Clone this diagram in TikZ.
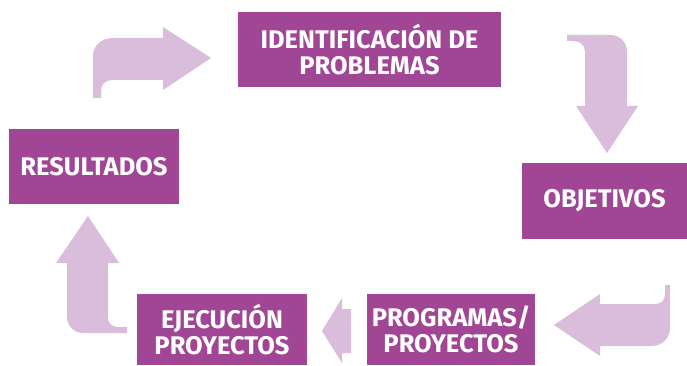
\documentclass[tikz,border=0pt]{standalone}
\usepackage{fontspec}
\setmainfont{Fira Sans}
\definecolor{boxc}{HTML}{A14694}
\definecolor{arrc}{HTML}{D9BDDB}
\begin{document}
\begin{tikzpicture}[x=1pt,y=-1pt,
  box/.style={fill=boxc, text=white, font=\bfseries\fontsize{25.5}{26.5}\selectfont, align=center, inner sep=0pt},
  blk/.style={fill=arrc, draw=none}]
\useasboundingbox (0,0) rectangle (687,366);
% block arrows
\fill[blk] (93,98) -- (93,56) .. controls (93,45) and (102,38) .. (113,38) -- (163,38) -- (163,27) -- (211,58) -- (163,90) -- (163,80) -- (112,80) .. controls (105,80) and (101,85) .. (101,91) -- (101,98) -- cycle;
\fill[blk] (567,35) -- (610,35) .. controls (620,35) and (627,42) .. (627,52) -- (627,106) -- (638,106) -- (607,153) -- (576,106) -- (585,106) -- (585,52) .. controls (585,45) and (580,41) .. (573,41) -- (567,41) -- cycle;
\fill[blk] (665,285) -- (670,285) -- (670,328) .. controls (670,338) and (662,346) .. (652,346) -- (600,346) -- (600,356) -- (554,325) -- (600,294) -- (600,304) -- (655,304) .. controls (661,304) and (665,300) .. (665,294) -- cycle;
\fill[blk] (351,309) -- (342,309) -- (342,298) -- (322,331) -- (342,363) -- (342,353) -- (351,353) -- cycle;
\fill[blk] (88,216) -- (119,263) -- (108,263) -- (108,318) .. controls (108,323) and (112,327) .. (118,327) -- (127,327) -- (127,333) -- (83,333) .. controls (74,333) and (67,326) .. (67,317) -- (67,263) -- (56,263) -- cycle;
% boxes
\node[box, minimum width=263pt, minimum height=75pt] (ident) at (369.5,49.5) {IDENTIFICACIÓN DE\\PROBLEMAS};
\node[box, minimum width=165pt, minimum height=76pt] (obj) at (604.5,201) {OBJETIVOS};
\node[box, minimum width=170pt, minimum height=75pt] (res) at (94,166.5) {RESULTADOS};
\node[box, minimum width=170pt, minimum height=71pt] (ejec) at (222,329.5) {EJECUCIÓN\\PROYECTOS};
\node[box, minimum width=168pt, minimum height=71pt] (prog) at (451,329.5) {PROGRAMAS/\\PROYECTOS};
\end{tikzpicture}
\end{document}
